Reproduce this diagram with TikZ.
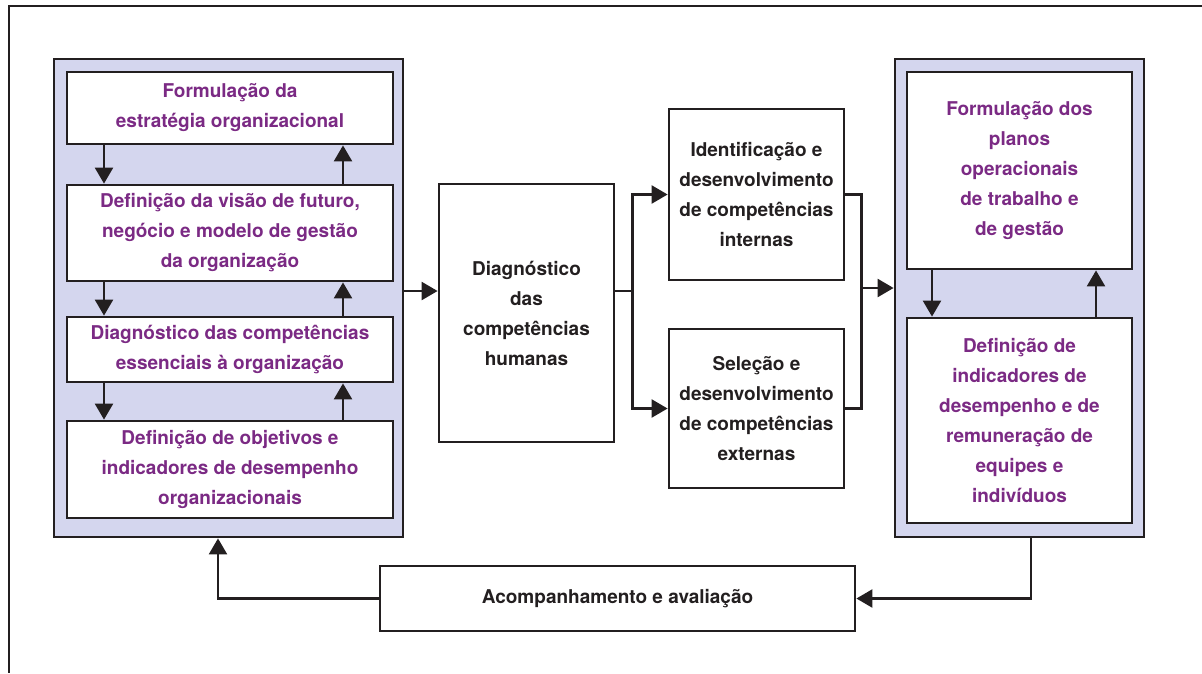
\documentclass[tikz,border=0pt]{standalone}
\usepackage{fontspec}
\setmainfont{TeX Gyre Heros}
\usetikzlibrary{arrows.meta, positioning}
\definecolor{lavender}{HTML}{D4D6EE}
\definecolor{plum}{HTML}{7B2A84}
\definecolor{ink}{HTML}{231F20}

\begin{document}
\begin{tikzpicture}[x=1pt, y=-1pt,
    group/.style={draw=ink, line width=2.8pt, fill=lavender, inner sep=0pt},
    box/.style={draw=ink, line width=2.8pt, fill=white, inner sep=0pt, align=center, text=ink, font=\fontsize{19}{30}\selectfont\bfseries},
    inbox/.style={box, text=plum},
    flow/.style={draw=ink, line width=2.4pt, -{Triangle[length=16pt, width=18pt]}}]

\useasboundingbox (0,0) rectangle (1202,673);
\draw [ink, line width=2.2pt] (1202,6) -- (9,6) -- (9,673);

\node [group, minimum width=349pt, minimum height=478pt] (grpL) at (228.5,298) {};
\node [group, minimum width=249pt, minimum height=478pt] (grpR) at (1019.5,298) {};

\node [inbox, minimum width=326pt, minimum height=72pt] (L1) at (230,108) {Formulação da\\estratégia organizacional};
\node [inbox, minimum width=326pt, minimum height=96pt] (L2) at (230,233) {Definição da visão de futuro,\\negócio e modelo de gestão\\da organização};
\node [inbox, minimum width=326pt, minimum height=65pt] (L3) at (230,349.5) {Diagnóstico das competências\\essenciais à organização};
\node [inbox, minimum width=326pt, minimum height=97pt] (L4) at (230,469.5) {Definição de objetivos e\\indicadores de desempenho\\organizacionais};

\node [box, minimum width=175pt, minimum height=258pt] (M) at (526.5,313) {Diagnóstico\\das\\competências\\humanas};
\node [box, minimum width=175pt, minimum height=171pt] (I) at (756.5,194.5) {Identificação e\\desenvolvimento\\de competências\\internas};
\node [box, minimum width=175pt, minimum height=159pt] (S) at (756.5,408.5) {Seleção e\\desenvolvimento\\de competências\\externas};

\node [inbox, minimum width=225pt, minimum height=197pt] (R1) at (1019.5,170.5) {Formulação dos\\planos\\operacionais\\de trabalho e\\de gestão};
\node [inbox, minimum width=225pt, minimum height=205pt] (R2) at (1019.5,420.5) {Definição de\\indicadores de\\desempenho e de\\remuneração de\\equipes e\\indivíduos};

\node [box, minimum width=475pt, minimum height=65pt] (A) at (617.5,598.5) {Acompanhamento e avaliação};

\foreach \a/\b in {L1/L2, L2/L3, L3/L4} {
    \draw [flow] ([xshift=-126pt]\a.south) -- ([xshift=-126pt]\b.north);
    \draw [flow] ([xshift=113pt]\b.north) -- ([xshift=113pt]\a.south);
}
\draw [flow] ([xshift=-87.5pt]R1.south) -- ([xshift=-87.5pt]R2.north);
\draw [flow] ([xshift=76.5pt]R2.north) -- ([xshift=76.5pt]R1.south);

\coordinate (jL) at ([yshift=7pt]grpL.east);
\coordinate (jM) at ([xshift=17pt]jL -| M.east);
\coordinate (jR) at ([xshift=16pt, yshift=10pt]I.east |- grpR.west);
\draw [flow] (jL) -- (jL -| M.west);
\draw [ink, line width=2.4pt] (jL -| M.east) -- (jM);
\draw [flow] (jM) |- (I.west);
\draw [flow] (jM) |- (S.west);
\draw [ink, line width=2.4pt] (I.east) -| (jR) |- (S.east);
\draw [flow] (jR) -- (jR -| grpR.west);

\draw [flow] ([xshift=11.5pt]grpR.south) |- (A.east);
\draw [flow] (A.west) -| ([xshift=-10.5pt]grpL.south);

\end{tikzpicture}
\end{document}
